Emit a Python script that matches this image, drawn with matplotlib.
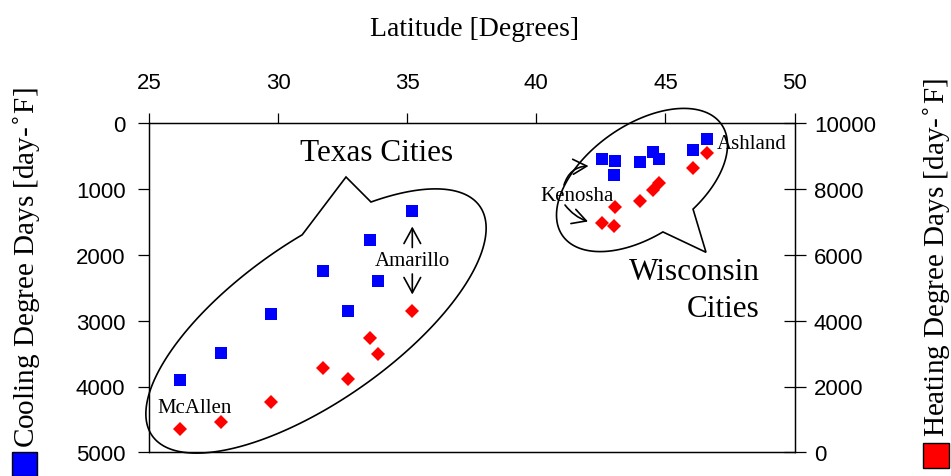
import numpy as np
import matplotlib
matplotlib.use("Agg")
import matplotlib.pyplot as plt
import matplotlib.transforms as mtransforms
from matplotlib.patches import Polygon, Rectangle

# ------------------- Data -------------------
# Latitude [deg] of each city, cooling and heating degree days [day-F]
texas_lat = [26.2, 27.8, 29.72, 31.72, 32.7, 33.55, 33.86, 35.17]
texas_cdd = [3900, 3490, 2900, 2240, 2860, 1770, 2400, 1340]
texas_hdd = [700, 910, 1520, 2560, 2230, 3470, 2990, 4300]

wisc_lat = [42.54, 43.0, 43.06, 44.0, 44.52, 44.77, 46.06, 46.6]
wisc_cdd = [540, 790, 570, 590, 440, 540, 410, 240]
wisc_hdd = [6980, 6870, 7470, 7630, 7970, 8190, 8650, 9110]

lat_ticks = [25, 30, 35, 40, 45, 50]
cdd_ticks = [0, 1000, 2000, 3000, 4000, 5000]
hdd_ticks = [0, 2000, 4000, 6000, 8000, 10000]

SERIF = "Liberation Serif"
SANS = "Liberation Sans"
W, H = 951, 477

# ------------------- Figure / axes -------------------
fig = plt.figure(figsize=(W / 100, H / 100), dpi=100)
# pixel coords (origin top-left) -> figure fraction, used for the callouts
pix = mtransforms.Affine2D().scale(1 / W, -1 / H).translate(0, 1) + fig.transFigure

ax = fig.add_axes([149 / W, 1 - 453.3 / H, (794.5 - 149) / W, (453.3 - 124.3) / H])
ax.set_xlim(25, 50)
ax.set_ylim(5000, 0)
ax.set_xticks(lat_ticks)
ax.set_yticks(cdd_ticks)
ax.xaxis.tick_top()
ax.tick_params(axis="x", direction="out", length=7, width=0.9, pad=15, labelsize=16)
ax.tick_params(axis="y", direction="out", length=8, width=0.9, pad=9, labelsize=16)

ax2 = ax.twinx()
ax2.set_ylim(0, 10000)
ax2.set_yticks(hdd_ticks)
ax2.tick_params(axis="y", direction="inout", length=16, width=0.9, pad=6, labelsize=16)

for a in (ax, ax2):
    for sp in a.spines.values():
        sp.set_linewidth(0.9)
    for lab in a.get_xticklabels() + a.get_yticklabels():
        lab.set_family(SANS)

# ------------------- Points -------------------
ax.plot(texas_lat, texas_cdd, "s", color="#0000ff", ms=8, mew=0)
ax.plot(wisc_lat, wisc_cdd, "s", color="#0000ff", ms=8, mew=0)
ax2.plot(texas_lat, texas_hdd, "D", color="#ff0000", ms=6.8, mew=0)
ax2.plot(wisc_lat, wisc_hdd, "D", color="#ff0000", ms=6.8, mew=0)


# ------------------- Speech bubbles -------------------
def bubble(cx, cy, a, b, ang, t0, t1, tip, n=300):
    t = np.radians(np.linspace(t0, t1, n))
    r = np.radians(ang)
    ux, uy = np.cos(r), -np.sin(r)
    vx, vy = -np.sin(r), -np.cos(r)
    x = cx + a * np.cos(t) * ux + b * np.sin(t) * vx
    y = cy + a * np.cos(t) * uy + b * np.sin(t) * vy
    pts = np.vstack([np.column_stack([x, y]), tip])
    return Polygon(pts, closed=True, fill=False, ec="black", lw=1.2,
                   transform=pix, clip_on=False)


fig.add_artist(bubble(316, 322, 200, 80, 35, 79, 415.5, [346, 178]))
fig.add_artist(bubble(642, 181, 97, 55, 35, -75, 262.5, [706, 253.3]))

# ------------------- Labels -------------------
txt = dict(transform=pix, family=SERIF, va="baseline")
fig.text(376.8, 161, "Texas Cities", ha="center", fontsize=22.5, **txt)
fig.text(760, 280, "Wisconsin", ha="right", fontsize=22.5, **txt)
fig.text(760, 317.3, "Cities", ha="right", fontsize=22.5, **txt)
fig.text(412, 265.7, "Amarillo", ha="center", fontsize=15, **txt)
fig.text(194.2, 412.7, "McAllen", ha="center", fontsize=15, **txt)
fig.text(577.3, 201, "Kenosha", ha="center", fontsize=15, **txt)
fig.text(752, 149.3, "Ashland", ha="center", fontsize=15, **txt)
fig.text(475, 36, "Latitude [Degrees]", ha="center", fontsize=20, **txt)

for start, end, rad, scale in [((412.3, 248.5), (412.3, 227.5), 0, 20),
                               ((412.3, 275), (412.3, 295.5), 0, 20),
                               ((564, 186), (588.5, 167), -0.35, 18),
                               ((565, 206), (588, 222.5), 0.15, 18)]:
    ax.annotate("", xy=end, xytext=start, xycoords=pix, textcoords=pix,
                arrowprops=dict(arrowstyle="->,head_length=0.55,head_width=0.3",
                                connectionstyle=f"arc3,rad={rad}", lw=1.2,
                                color="black", mutation_scale=scale,
                                shrinkA=0, shrinkB=0),
                annotation_clip=False)

# axis titles with the series swatches underneath
fig.text(26.4, 268, "Cooling Degree Days [day-$^{\\circ}$F]", rotation=90,
         ha="center", va="center", fontsize=21, transform=pix, family=SERIF)
fig.text(937, 258, "Heating Degree Days [day-$^{\\circ}$F]", rotation=90,
         ha="center", va="center", fontsize=21, transform=pix, family=SERIF)
fig.add_artist(Rectangle((11.7, 453.3), 25, 23.4, fc="#0000ff", ec="black",
                         lw=1, transform=pix))
fig.add_artist(Rectangle((922.6, 443.6), 26.5, 25.5, fc="#ff0000", ec="black",
                         lw=1, transform=pix))

fig.savefig("out.png", dpi=100)
